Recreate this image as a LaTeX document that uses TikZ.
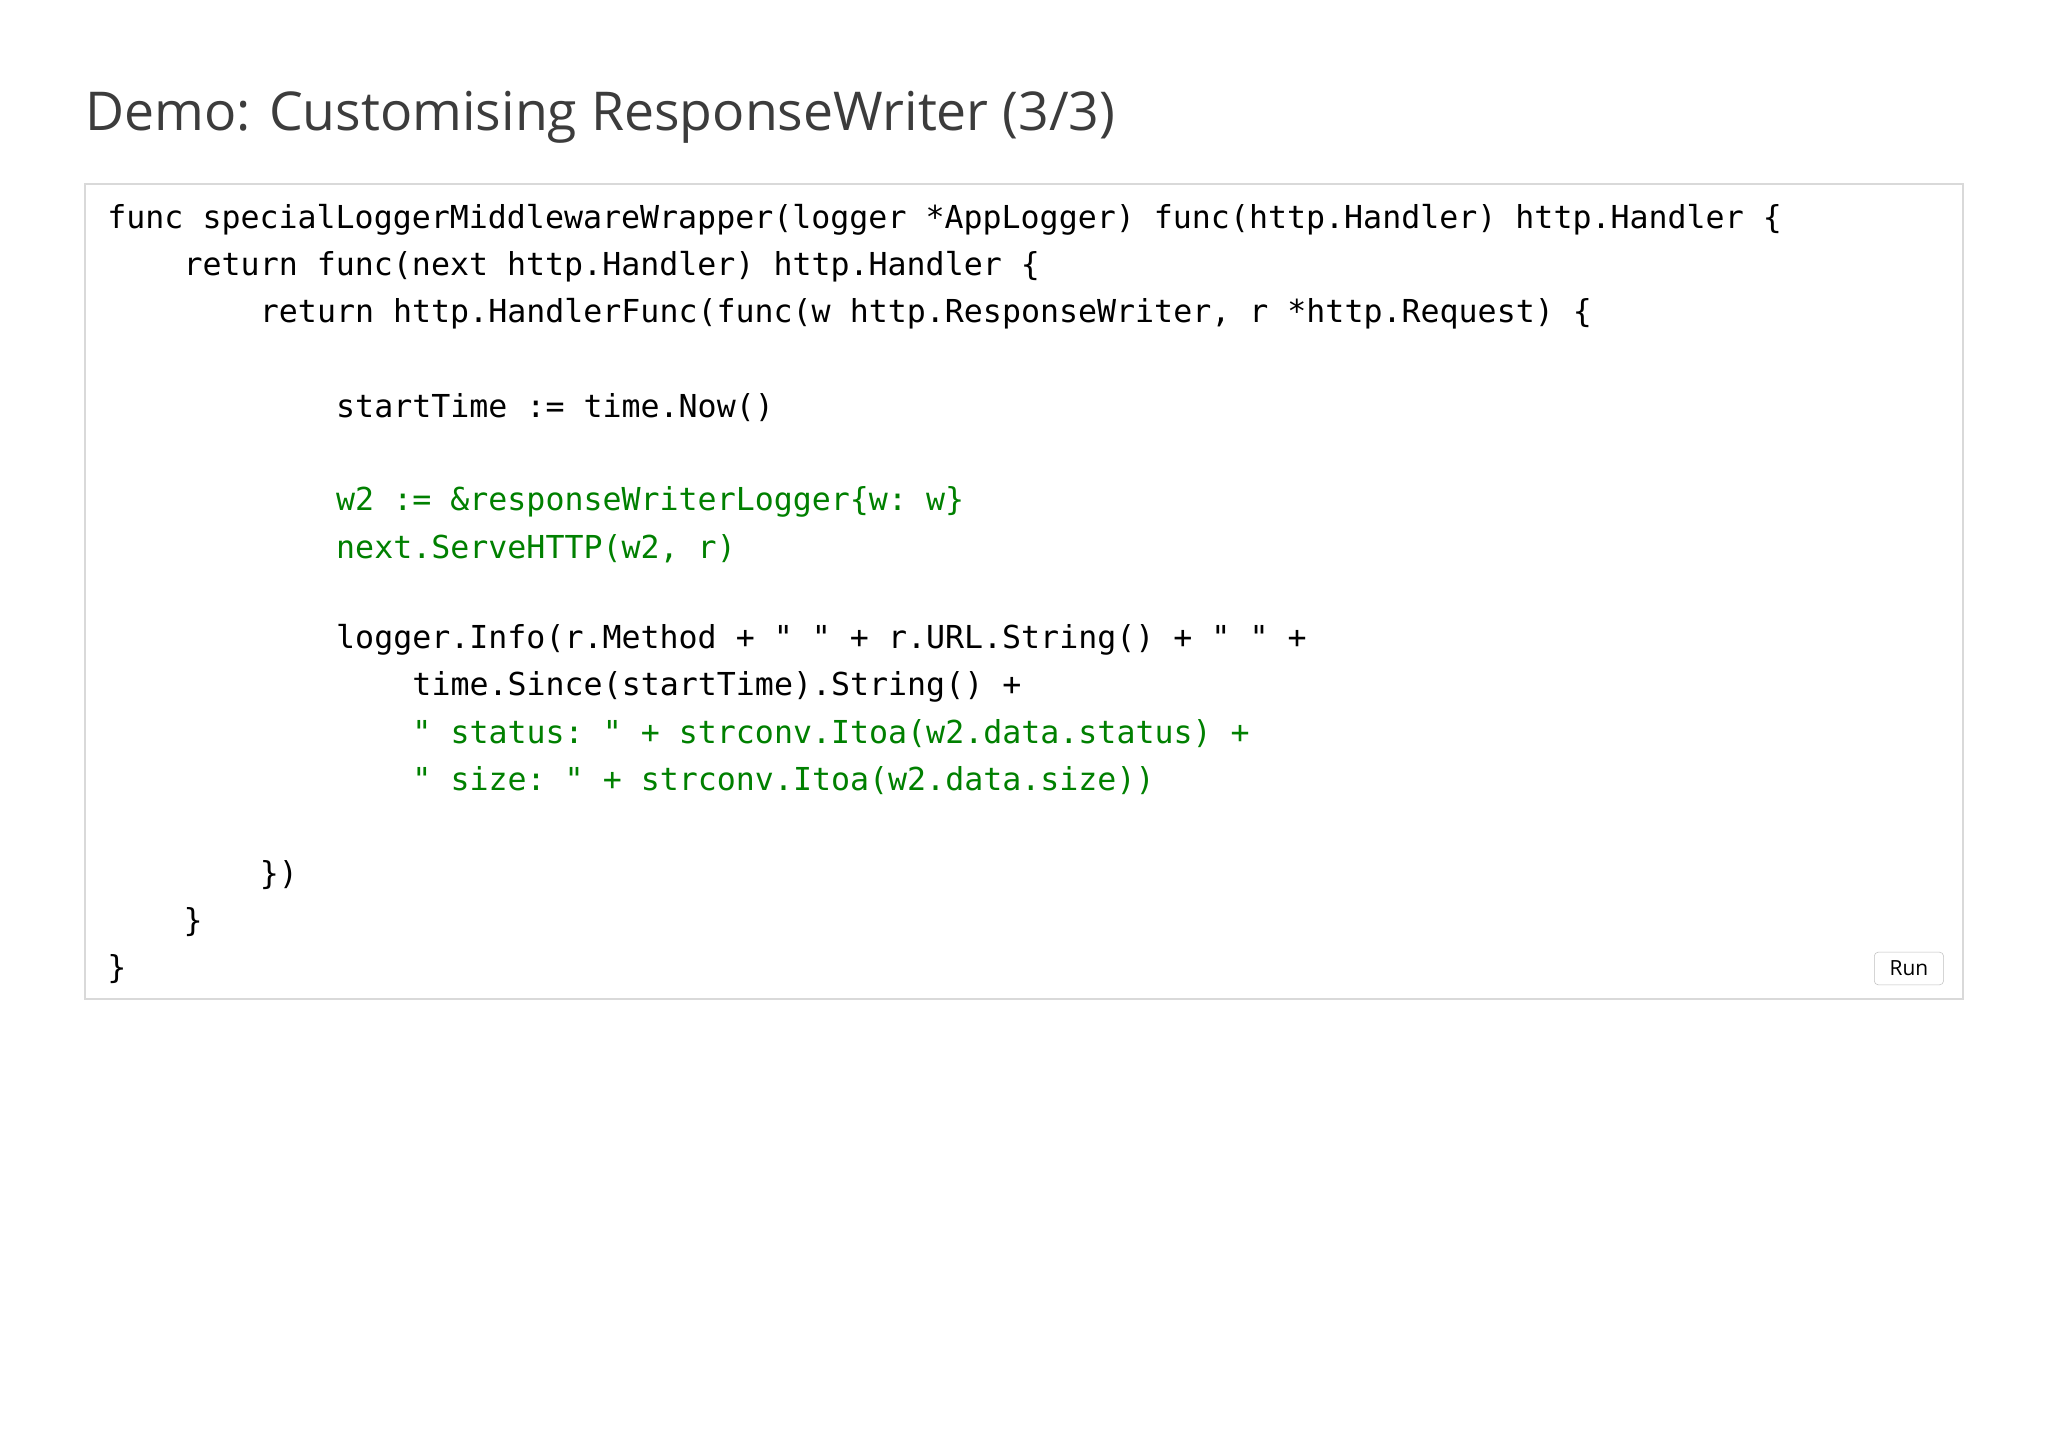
\documentclass[tikz,border=0pt]{standalone}
\usepackage{fontspec}
\setmainfont{Open Sans}
\setmonofont{DejaVu Sans Mono}
\definecolor{codegreen}{RGB}{0,128,0}
\definecolor{titlegray}{RGB}{60,60,60}
\tikzset{
  code/.style={anchor=west,inner sep=0pt,font=\fontsize{24.2}{28}\selectfont\ttfamily},
  gcode/.style={code,text=codegreen}
}
\begin{document}
\begin{tikzpicture}[x=1pt,y=-1pt]
\useasboundingbox[fill=white] (0,0) rectangle (1568,1108);
\node[anchor=base west,inner sep=0pt,text=titlegray,font=\fontsize{41}{48}\selectfont] (title) at (65,100) {Demo: Customising ResponseWriter (3/3)};
\draw[draw=black!15,line width=1.2pt] (65,141) rectangle (1503,765);
\def\cx{82}\def\cw{14.6}
\node[code] (l1) at (\cx,168) {func specialLoggerMiddlewareWrapper(logger *AppLogger) func(http.Handler) http.Handler \{};
\node[code] (l2) at (\cx+4*\cw,204) {return func(next http.Handler) http.Handler \{};
\node[code] (l3) at (\cx+8*\cw,240) {return http.HandlerFunc(func(w http.ResponseWriter, r *http.Request) \{};
\node[code] (l4) at (\cx+12*\cw,312) {startTime := time.Now()};
\node[gcode] (l5) at (\cx+12*\cw,384) {w2 := \&responseWriterLogger\{w: w\}};
\node[gcode] (l6) at (\cx+12*\cw,420) {next.ServeHTTP(w2, r)};
\node[code] (l7) at (\cx+12*\cw,490) {logger.Info(r.Method + " " + r.URL.String() + " " +};
\node[code] (l8) at (\cx+16*\cw,526) {time.Since(startTime).String() +};
\node[gcode] (l9) at (\cx+16*\cw,562) {" status: " + strconv.Itoa(w2.data.status) +};
\node[gcode] (l10) at (\cx+16*\cw,598) {" size: " + strconv.Itoa(w2.data.size))};
\node[code] (l11) at (\cx+8*\cw,670) {\})};
\node[code] (l12) at (\cx+4*\cw,706) {\}};
\node[code] (l13) at (\cx,742) {\}};
\node[draw=black!25,fill=white,rounded corners=3pt,minimum width=53pt,minimum height=25pt,inner sep=0pt,font=\fontsize{16}{18}\selectfont] (run) at (1461.5,741.5) {Run};
\end{tikzpicture}
\end{document}
